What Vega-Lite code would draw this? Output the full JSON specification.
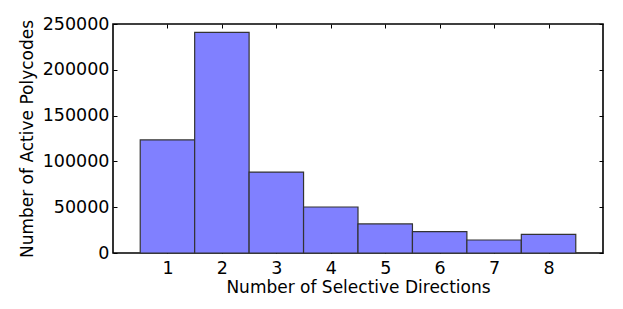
{
  "$schema": "https://vega.github.io/schema/vega-lite/v6.json",
  "width": 490,
  "height": 229,
  "autosize": "none",
  "padding": {"left": 113, "top": 24, "right": 20, "bottom": 56},
  "background": "white",
  "config": {
    "view": {"stroke": "black", "strokeWidth": 1.6},
    "font": "DejaVu Sans",
    "axis": {
      "labelFont": "DejaVu Sans",
      "titleFont": "DejaVu Sans",
      "labelFontSize": 17.5,
      "titleFontSize": 17,
      "titleFontWeight": "normal",
      "labelColor": "black",
      "titleColor": "black",
      "domain": false,
      "grid": false,
      "tickColor": "black",
      "tickSize": -4,
      "tickWidth": 1
    }
  },
  "data": {
    "values": [
      {"start": 0.5, "end": 1.5, "count": 123400},
      {"start": 1.5, "end": 2.5, "count": 240900},
      {"start": 2.5, "end": 3.5, "count": 88400},
      {"start": 3.5, "end": 4.5, "count": 50200},
      {"start": 4.5, "end": 5.5, "count": 31700},
      {"start": 5.5, "end": 6.5, "count": 23300},
      {"start": 6.5, "end": 7.5, "count": 14200},
      {"start": 7.5, "end": 8.5, "count": 20400}
    ]
  },
  "layer": [
    {
      "mark": {"type": "bar", "fill": "#8080ff", "stroke": "#333333", "strokeWidth": 1.2, "binSpacing": 0},
      "encoding": {
        "x": {
          "field": "start", "type": "quantitative",
          "scale": {"domain": [0, 9], "nice": false, "zero": false},
          "axis": {"values": [1,2,3,4,5,6,7,8], "title": "Number of Selective Directions", "labelPadding": 10, "titlePadding": 3, "orient": "bottom"}
        },
        "x2": {"field": "end"},
        "y": {
          "field": "count", "type": "quantitative",
          "scale": {"domain": [0, 250000], "nice": false},
          "axis": {"values": [0,50000,100000,150000,200000,250000], "title": "Number of Active Polycodes", "labelPadding": 8, "titlePadding": 6, "format": "d", "orient": "left"}
        },
        "y2": {"datum": 0}
      }
    },
    {
      "mark": {"type": "bar", "opacity": 0},
      "encoding": {
        "x": {
          "field": "start", "type": "quantitative",
          "scale": {"domain": [0, 9], "nice": false, "zero": false},
          "axis": {"values": [1,2,3,4,5,6,7,8], "labels": false, "title": null, "orient": "top"}
        },
        "x2": {"field": "end"},
        "y": {
          "field": "count", "type": "quantitative",
          "scale": {"domain": [0, 250000], "nice": false},
          "axis": {"values": [0,50000,100000,150000,200000,250000], "labels": false, "title": null, "orient": "right"}
        },
        "y2": {"datum": 0}
      }
    }
  ],
  "resolve": {"axis": {"x": "independent", "y": "independent"}}
}
